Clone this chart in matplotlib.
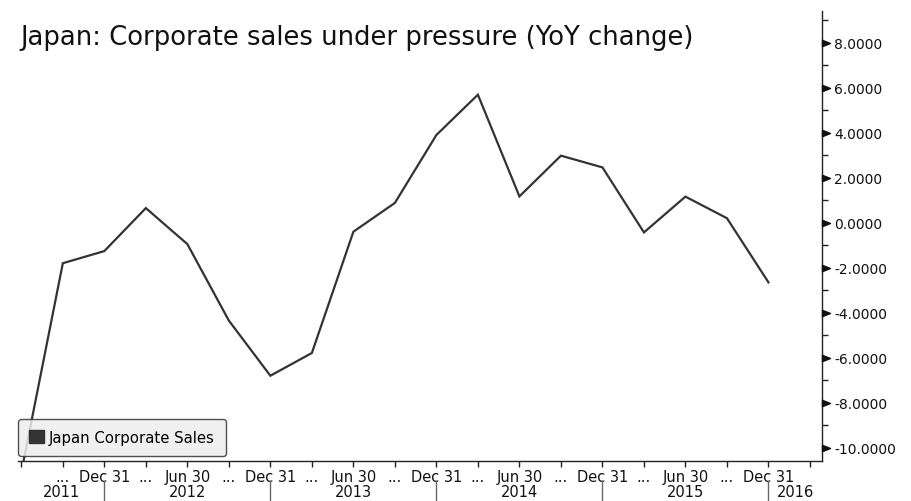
import matplotlib
matplotlib.use("Agg")
import matplotlib.pyplot as plt
import matplotlib.transforms as mtransforms
from matplotlib.patches import Patch
from matplotlib.path import Path
from matplotlib.ticker import FixedLocator

# ---- data ----
quarters = ["2011-06-30", "2011-09-30", "2011-12-31", "2012-03-31", "2012-06-30",
            "2012-09-30", "2012-12-31", "2013-03-31", "2013-06-30", "2013-09-30",
            "2013-12-31", "2014-03-31", "2014-06-30", "2014-09-30", "2014-12-31",
            "2015-03-31", "2015-06-30", "2015-09-30", "2015-12-31"]
sales_yoy = [-11.1, -1.81, -1.27, 0.64, -0.96, -4.36, -6.81, -5.80, -0.41, 0.87,
             3.89, 5.68, 1.16, 2.97, 2.45, -0.44, 1.15, 0.19, -2.66]
tick_labels = ["", "...", "Dec 31", "...", "Jun 30", "...", "Dec 31", "...", "Jun 30",
               "...", "Dec 31", "...", "Jun 30", "...", "Dec 31", "...", "Jun 30",
               "...", "Dec 31", ""]
years = ["2011", "2012", "2013", "2014", "2015", "2016"]
year_breaks = [2, 6, 10, 14, 18]
y_major = [-10, -8, -6, -4, -2, 0, 2, 4, 6, 8]

series_name = "Japan Corporate Sales"
title = "Japan: Corporate sales under pressure (YoY change)"

W, H = 912, 502
fig = plt.figure(figsize=(W / 100, H / 100), dpi=100)
ax_l, ax_r, ax_b, ax_t = 18, 822, 462, 12
ax = fig.add_axes([ax_l / W, 1 - ax_b / H, (ax_r - ax_l) / W, (ax_b - ax_t) / H])

line_color = "#333333"
x = list(range(len(sales_yoy)))
ax.plot(x, sales_yoy, color=line_color, lw=1.6, solid_joinstyle="miter", zorder=3)

xlim = (-0.08, 19.29)
ax.set_xlim(*xlim)
ax.set_ylim(-10.6, 9.4)

for s in ["top", "left"]:
    ax.spines[s].set_visible(False)
for s in ["right", "bottom"]:
    ax.spines[s].set_color("#222222")
    ax.spines[s].set_linewidth(1.0)

# x ticks
ax.set_xticks(range(len(tick_labels)))
ax.set_xticklabels(tick_labels, fontsize=10.5, color="#111111")
ax.tick_params(axis="x", direction="out", length=4, width=1, color="#222222", pad=1.5)

# y ticks on right
ax.yaxis.tick_right()
ax.set_yticks(y_major)
ax.set_yticklabels([f"{v:.4f}" for v in y_major], fontsize=10, color="#111111")
ax.tick_params(axis="y", which="major", length=0, pad=9)
ax.yaxis.set_minor_locator(FixedLocator([v + 1 for v in y_major]))
ax.tick_params(axis="y", which="minor", direction="out", length=4, width=1, color="#222222")

# triangle markers for major y ticks
tri = Path([(0, -0.4), (0, 0.4), (1, 0), (0, -0.4)],
           [Path.MOVETO, Path.LINETO, Path.LINETO, Path.CLOSEPOLY])
trans_y = mtransforms.blended_transform_factory(ax.transAxes, ax.transData)
ax.plot([1.0] * len(y_major), y_major, linestyle="none", marker=tri, markersize=11.5,
        color="#111111", transform=trans_y, clip_on=False, zorder=5)

# year separators and labels
trans_x = mtransforms.blended_transform_factory(ax.transData, ax.transAxes)
for b in year_breaks:
    ax.plot([b, b], [-0.045, -0.095], color="#666666", lw=1.0, transform=trans_x, clip_on=False)
bounds = [xlim[0]] + year_breaks + [xlim[1]]
for i, yr in enumerate(years):
    cx = (bounds[i] + bounds[i + 1]) / 2
    ax.text(cx, -0.0667, yr, transform=trans_x, ha="center", va="center",
            fontsize=10.5, color="#111111")

# legend
handle = Patch(facecolor=line_color, edgecolor=line_color)
leg = ax.legend([handle], [series_name], loc="lower left",
                bbox_to_anchor=(0.0, 5 / (ax_b - ax_t)), borderaxespad=0,
                fontsize=10.7, handlelength=1.0, handleheight=1.0, handletextpad=0.35,
                borderpad=0.75, fancybox=True, framealpha=0.85, facecolor="#eeeeee",
                edgecolor="#333333")
leg.get_frame().set_linewidth(1.0)
leg.set_zorder(4)

fig.text(20 / W, 1 - 38 / H, title, ha="left", va="center", fontsize=18.6, color="#111111")

fig.savefig("out.png", dpi=100)
